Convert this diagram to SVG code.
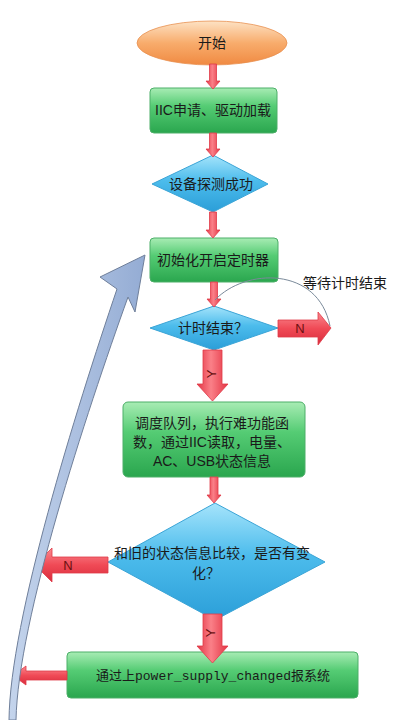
<svg xmlns="http://www.w3.org/2000/svg" width="404" height="720" viewBox="0 0 404 720">
<defs>
<linearGradient id="gGreen" x1="0" y1="0" x2="0" y2="1">
<stop offset="0" stop-color="#a8ecb4"/><stop offset="0.4" stop-color="#55cc74"/><stop offset="1" stop-color="#2aa64e"/>
</linearGradient>
<linearGradient id="gBlue" x1="0" y1="0" x2="0" y2="1">
<stop offset="0" stop-color="#a6e4fb"/><stop offset="0.45" stop-color="#4cbcec"/><stop offset="1" stop-color="#2b9ed8"/>
</linearGradient>
<linearGradient id="gOrange" x1="0" y1="0" x2="0" y2="1">
<stop offset="0" stop-color="#fde2c4"/><stop offset="0.5" stop-color="#f8ac6c"/><stop offset="1" stop-color="#f08a42"/>
</linearGradient>
<linearGradient id="gRedV" x1="0" y1="0" x2="1" y2="0">
<stop offset="0" stop-color="#e43444"/><stop offset="0.45" stop-color="#fa8088"/><stop offset="1" stop-color="#e43444"/>
</linearGradient>
<linearGradient id="gRedH" x1="0" y1="0" x2="0" y2="1">
<stop offset="0" stop-color="#fa8a90"/><stop offset="0.5" stop-color="#f04a56"/><stop offset="1" stop-color="#d82c3c"/>
</linearGradient>
<linearGradient id="gArrow" x1="0" y1="0" x2="1" y2="0">
<stop offset="0" stop-color="#c4d4ec"/><stop offset="1" stop-color="#94acd4"/>
</linearGradient>
<style>
.box{fill:url(#gGreen);stroke:#4caf68;stroke-width:1}
.dia{fill:url(#gBlue);stroke:#3aa4d6;stroke-width:1}
.t{font-family:"Liberation Sans","Noto Sans CJK SC",sans-serif;font-size:14px;fill:#1a1a1a;text-anchor:middle}
.m{font-family:"Liberation Mono","Noto Sans CJK SC",monospace;font-size:13px;fill:#1a1a1a;text-anchor:middle}
.rv{fill:url(#gRedV);stroke:#e03a48;stroke-width:0.8}
.rh{fill:url(#gRedH);stroke:#e03a48;stroke-width:0.8}
.lbl{font-family:"Liberation Sans",sans-serif;font-size:13px;fill:#6a1010;text-anchor:middle}
</style>
</defs>
<rect width="404" height="720" fill="#ffffff"/>

<g id="start">
<ellipse cx="212" cy="43" rx="75" ry="22" fill="url(#gOrange)" stroke="#e89050" stroke-width="0.8"/>
<text class="t" x="212" y="48">开始</text>
</g>
<g id="iic">
<rect class="box" x="150" y="88" width="127" height="45" rx="4"/>
<text class="t" x="213" y="115">IIC申请、驱动加载</text>
</g>
<g id="detect">
<polygon class="dia" points="213,155 268,184 213,212 152,184"/>
<text class="t" x="211" y="189">设备探测成功</text>
</g>
<g id="init">
<rect class="box" x="150" y="238" width="128" height="44" rx="4"/>
<text class="t" x="213" y="265">初始化开启定时器</text>
</g>
<g id="timer">
<polygon class="dia" points="214,306 278,328 214,350 150,328"/>
<text class="t" x="213" y="333">计时结束？</text>
</g>
<g id="queue">
<rect class="box" x="123" y="402" width="182" height="75" rx="5"/>
<text class="t" x="212" y="428">调度队列，执行难功能函</text>
<text class="t" x="212" y="447">数，通过IIC读取，电量、</text>
<text class="t" x="212" y="466">AC、USB状态信息</text>
</g>
<g id="compare">
<polygon class="dia" points="215,503 325,562 215,620 108,562"/>
<text class="t" x="212" y="558">和旧的状态信息比较，是否有变</text>
<text class="t" x="206" y="578">化？</text>
</g>
<g id="report">
<rect class="box" x="67" y="652" width="291" height="46" rx="4"/>
<text class="m" x="213" y="680">通过上power_supply_changed报系统</text>
</g>

<g id="connectors">
<polygon class="rv" points="209.5,64 216.5,64 216.5,81 220,81 213,89 206,81 209.5,81"/>
<polygon class="rv" points="209.5,133 216.5,133 216.5,149 220,149 213,157 206,149 209.5,149"/>
<polygon class="rv" points="209.5,212 216.5,212 216.5,230 220,230 213,238 206,230 209.5,230"/>
<polygon class="rv" points="210.5,282 217.5,282 217.5,299 221,299 214,307 207,299 210.5,299"/>
<polygon class="rv" points="203,350 222,350 222,384 228,384 212.5,401 197,384 203,384"/>
<text class="lbl" transform="translate(212,374) rotate(-90)" y="4">Y</text>
<polygon class="rv" points="210,477 218,477 218,495 221,495 214,503 207,495 210,495"/>
<polygon class="rv" points="203,614 222,614 222,646 228,646 212.5,663 197,646 203,646"/>
<text class="lbl" transform="translate(211,633) rotate(-90)" y="4">Y</text>
<polygon class="rh" points="278,320 318,320 318,312 331,328 318,345 318,337 278,337"/>
<text class="lbl" x="300" y="333">N</text>
<path d="M215 300 C245 268 318 266 330 326" fill="none" stroke="#7a8a9a" stroke-width="1"/>
<text class="t" x="345" y="288">等待计时结束</text>
<polygon class="rh" points="108,557 52,557 52,548 35,565 52,582 52,573 108,573"/>
<text class="lbl" x="68" y="570">N</text>
<polygon class="rh" points="67,671 26,671 26,666 13,675.5 26,685 26,680 67,680"/>
<path d="M9 720 C10 620 76 410 117 289 L100 277 L145 255 L135 312 L128 297 C86 414 18 620 16 720 Z" fill="url(#gArrow)" stroke="#6f7f9a" stroke-width="1"/>
</g>
</svg>
